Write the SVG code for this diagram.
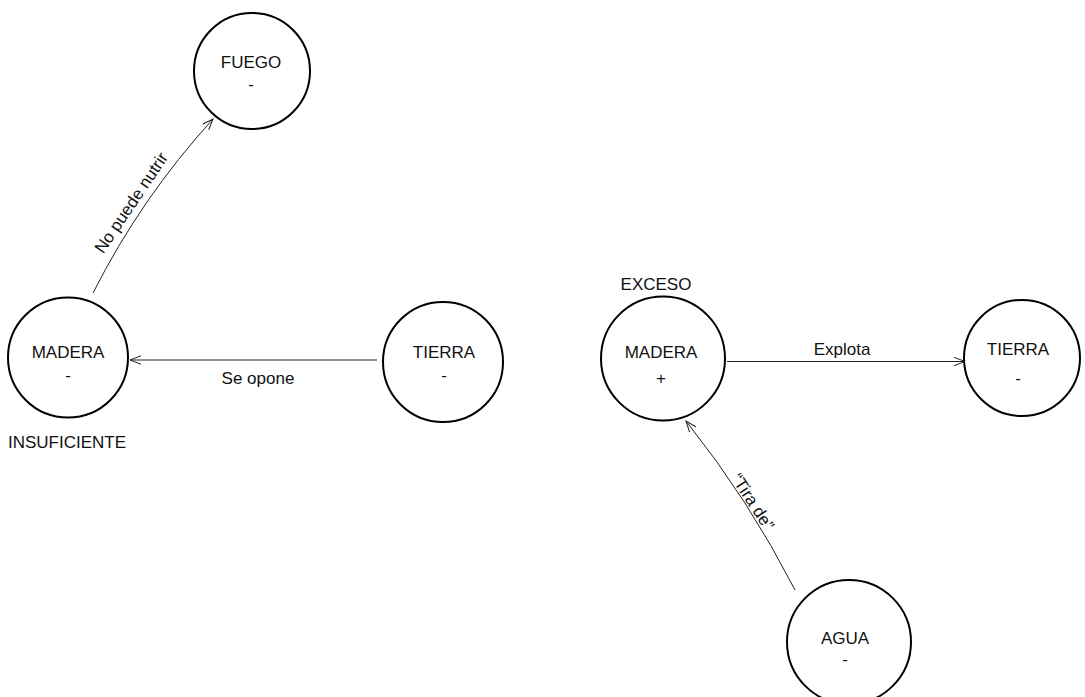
<svg xmlns="http://www.w3.org/2000/svg" width="1085" height="697" viewBox="0 0 1085 697">
<style>
.node{fill:#fff;stroke:#000;stroke-width:2}
.t{font-family:"Liberation Sans",Arial,sans-serif;font-size:17px;fill:#111;text-anchor:middle}
.edge{fill:none;stroke:#222;stroke-width:1}
</style>
<defs>
<marker id="arr" viewBox="0 0 12 10" refX="11" refY="5" markerWidth="12" markerHeight="10" markerUnits="userSpaceOnUse" orient="auto">
<path d="M0,0.8 L11,5 L0,9.2" fill="none" stroke="#222" stroke-width="1"/>
</marker>
</defs>
<rect width="1085" height="697" fill="#fff"/>
<g id="connectors">
<path class="edge" d="M93,293 Q141,198 213,119" marker-end="url(#arr)"/>
<line class="edge" x1="377" y1="360" x2="130" y2="360" marker-end="url(#arr)"/>
<line class="edge" x1="727" y1="361.5" x2="965" y2="361.5" marker-end="url(#arr)"/>
<path class="edge" d="M795,590 Q749,500 686,421" marker-end="url(#arr)"/>
<text class="t" transform="translate(136,206) rotate(-56)">No puede nutrir</text>
<text class="t" x="258" y="384">Se opone</text>
<text class="t" x="842" y="355">Explota</text>
<text class="t" transform="translate(748,505) rotate(57)">“Tira de”</text>
</g>
<g id="fuego">
<circle class="node" cx="252" cy="71" r="58"/>
<text class="t" x="251" y="68">FUEGO</text>
<text class="t" x="251" y="90">-</text>
</g>
<g id="madera-insuficiente">
<circle class="node" cx="68" cy="357.5" r="60"/>
<text class="t" x="68" y="358">MADERA</text>
<text class="t" x="68" y="381">-</text>
<text class="t" x="67" y="448">INSUFICIENTE</text>
</g>
<g id="tierra-1">
<circle class="node" cx="443" cy="362" r="60"/>
<text class="t" x="444" y="358">TIERRA</text>
<text class="t" x="444" y="381">-</text>
</g>
<g id="madera-exceso">
<circle class="node" cx="663" cy="358.5" r="62"/>
<text class="t" x="656" y="290">EXCESO</text>
<text class="t" x="661" y="358">MADERA</text>
<text class="t" x="661" y="384">+</text>
</g>
<g id="tierra-2">
<circle class="node" cx="1022" cy="358" r="58"/>
<text class="t" x="1018" y="355">TIERRA</text>
<text class="t" x="1018" y="384">-</text>
</g>
<g id="agua">
<circle class="node" cx="849" cy="642" r="62"/>
<text class="t" x="845" y="644">AGUA</text>
<text class="t" x="845" y="665">-</text>
</g>
</svg>
